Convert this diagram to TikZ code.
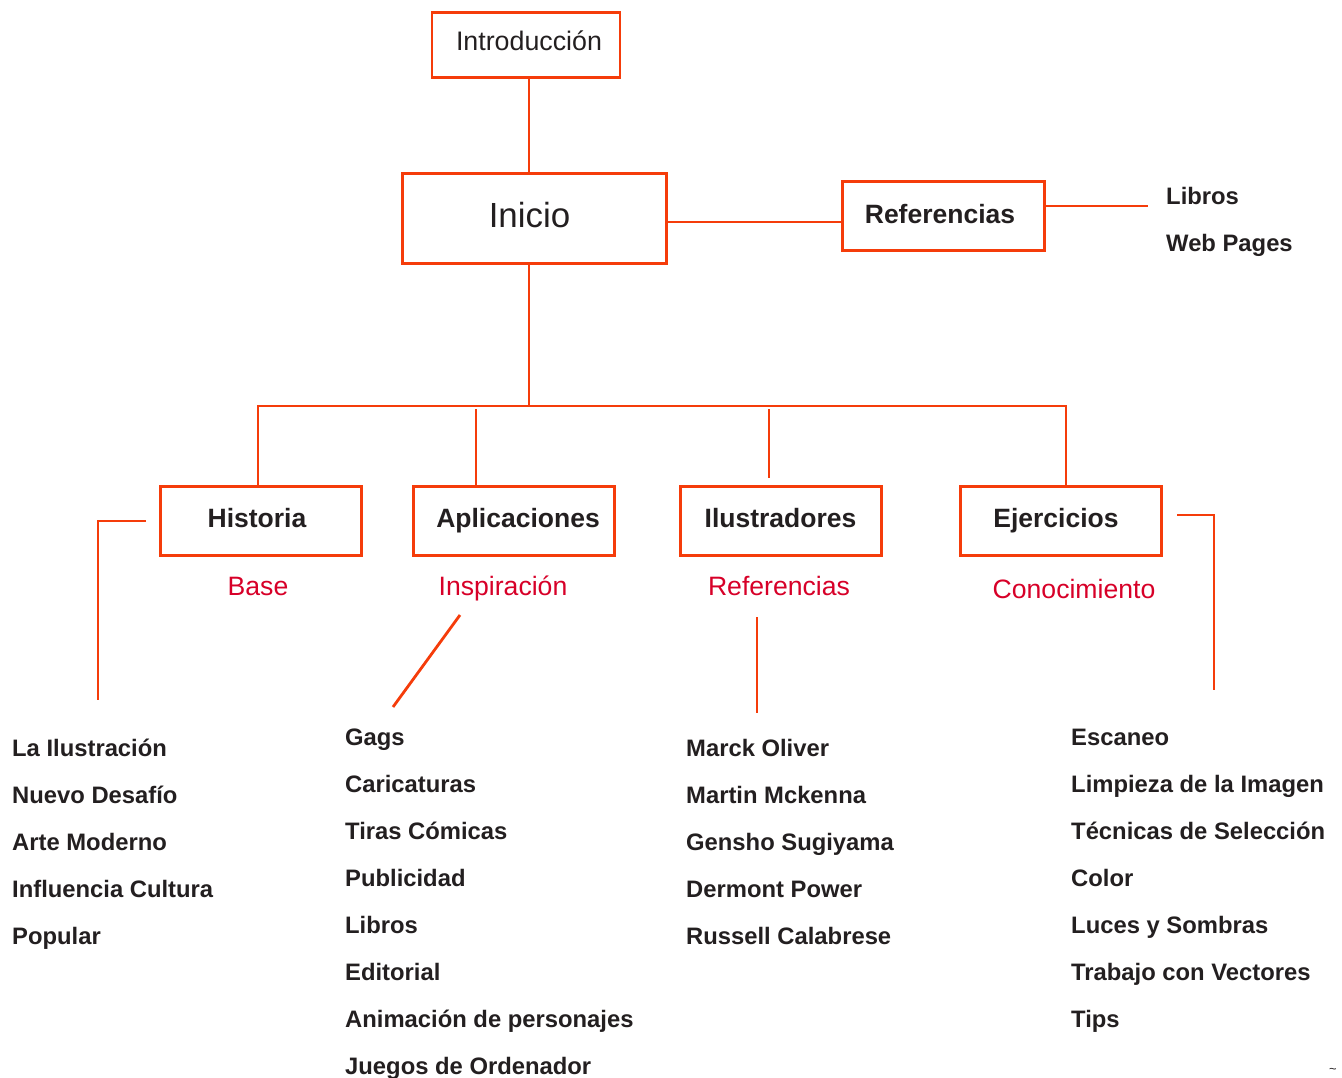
\documentclass[tikz,border=0pt]{standalone}
\usepackage{fontspec}
\setmainfont{Liberation Sans}
\definecolor{ln}{RGB}{245,60,10}
\definecolor{txt}{RGB}{35,31,32}
\definecolor{lab}{RGB}{215,0,40}
\begin{document}
\begin{tikzpicture}[x=1pt,y=-1pt,
  box/.style={draw=ln,line width=3pt,rectangle,inner sep=0pt,text=txt,
    minimum width=201pt,minimum height=69pt,text height=18.8pt,text depth=5pt},
  ttl/.style={font=\fontsize{26.5}{30}\selectfont\bfseries},
  conn/.style={draw=ln,line width=2.8pt},
  item/.style={anchor=base west,inner sep=0pt,text=txt,font=\fontsize{23.8}{28}\selectfont\bfseries},
  sub/.style={text=lab,inner sep=0pt,text height=19pt,text depth=0pt,font=\fontsize{26.6}{30}\selectfont}]
\useasboundingbox (0,0) rectangle (1342,1078);
% boxes
\node[box,minimum width=188pt,minimum height=65pt,line width=2.8pt,
  font=\fontsize{26.8}{30}\selectfont,text height=19pt,text depth=8pt] (intro) at (526,45) {\kern6pt Introducción};
\node[box,minimum width=264pt,minimum height=90pt,line width=3.8pt,
  font=\fontsize{34.9}{40}\selectfont,text height=24.8pt,text depth=7pt] (inicio) at (534.5,218.5) {Inicio\kern10pt};
\node[box,ttl,minimum width=202pt] (ref) at (943,216.5) {Referencias\kern6pt};
\node[box,ttl] (hist) at (260.5,520.5) {Historia\kern7pt};
\node[box,ttl] (apl) at (513.5,520.5) {\kern9pt Aplicaciones};
\node[box,ttl] (ilu) at (780.5,520.5) {Ilustradores};
\node[box,ttl] (eje) at (1060.5,520.5) {Ejercicios\kern9pt};
% sub labels
\node[sub] (lbase) at (258,586) {Base};
\node[sub] (linsp) at (503,586) {Inspiración};
\node[sub] (lrefe) at (779,586) {Referencias};
\node[sub] (lcono) at (1074,589) {Conocimiento};
% free ends
\coordinate (refend) at (1148,206);
\coordinate (hA) at (146,521);
\coordinate (hB) at (98,521);
\coordinate (hC) at (98,700);
\coordinate (eA) at (1177,515);
\coordinate (eB) at (1214,515);
\coordinate (eC) at (1214,690);
\coordinate (aA) at (460,615);
\coordinate (aB) at (393,707);
\coordinate (iA) at (757,617);
\coordinate (iB) at (757,713);
% connectors
\draw[conn] (529,0 |- intro.south) -- (529,0 |- inicio.north);
\draw[conn] (inicio.east |- 0,222) -- (ref.west |- 0,222);
\draw[conn] (ref.east |- refend) -- (refend);
\draw[conn] (529,0 |- inicio.south) -- (529,406);
\draw[conn] (258,0 |- hist.north) -- (258,406) -- (1066,406) -- (1066,0 |- eje.north);
\draw[conn] (476,409) -- (476,0 |- apl.north);
\draw[conn] (769,409) -- (769,478);
\draw[conn] (hA) -- (hB) -- (hC);
\draw[conn] (eA) -- (eB) -- (eC);
\draw[conn] (aA) -- (aB);
\draw[conn] (iA) -- (iB);
% top-right list
\node[item] (rl1) at (1166,204.4) {Libros};
\node[item] (rl2) at (1166,251.4) {Web Pages};
% lists
\foreach \t [count=\i] in {La Ilustración,Nuevo Desafío,Arte Moderno,Influencia Cultura,Popular}
  \node[item] (h\i) at (12,{756.4+47*(\i-1)}) {\t};
\foreach \t [count=\i] in {Gags,Caricaturas,Tiras Cómicas,Publicidad,Libros,Editorial,Animación de personajes,Juegos de Ordenador}
  \node[item] (a\i) at (345,{745.4+47*(\i-1)}) {\t};
\foreach \t [count=\i] in {Marck Oliver,Martin Mckenna,Gensho Sugiyama,Dermont Power,Russell Calabrese}
  \node[item] (u\i) at (686,{756.4+47*(\i-1)}) {\t};
\foreach \t [count=\i] in {Escaneo,Limpieza de la Imagen,Técnicas de Selección,Color,Luces y Sombras,Trabajo con Vectores,Tips}
  \node[item] (e\i) at (1071,{745.4+47*(\i-1)}) {\t};
\node[text=txt,inner sep=0pt,font=\fontsize{13}{13}\selectfont] (frag) at (1333,1071) {\~{}};
\end{tikzpicture}
\end{document}
